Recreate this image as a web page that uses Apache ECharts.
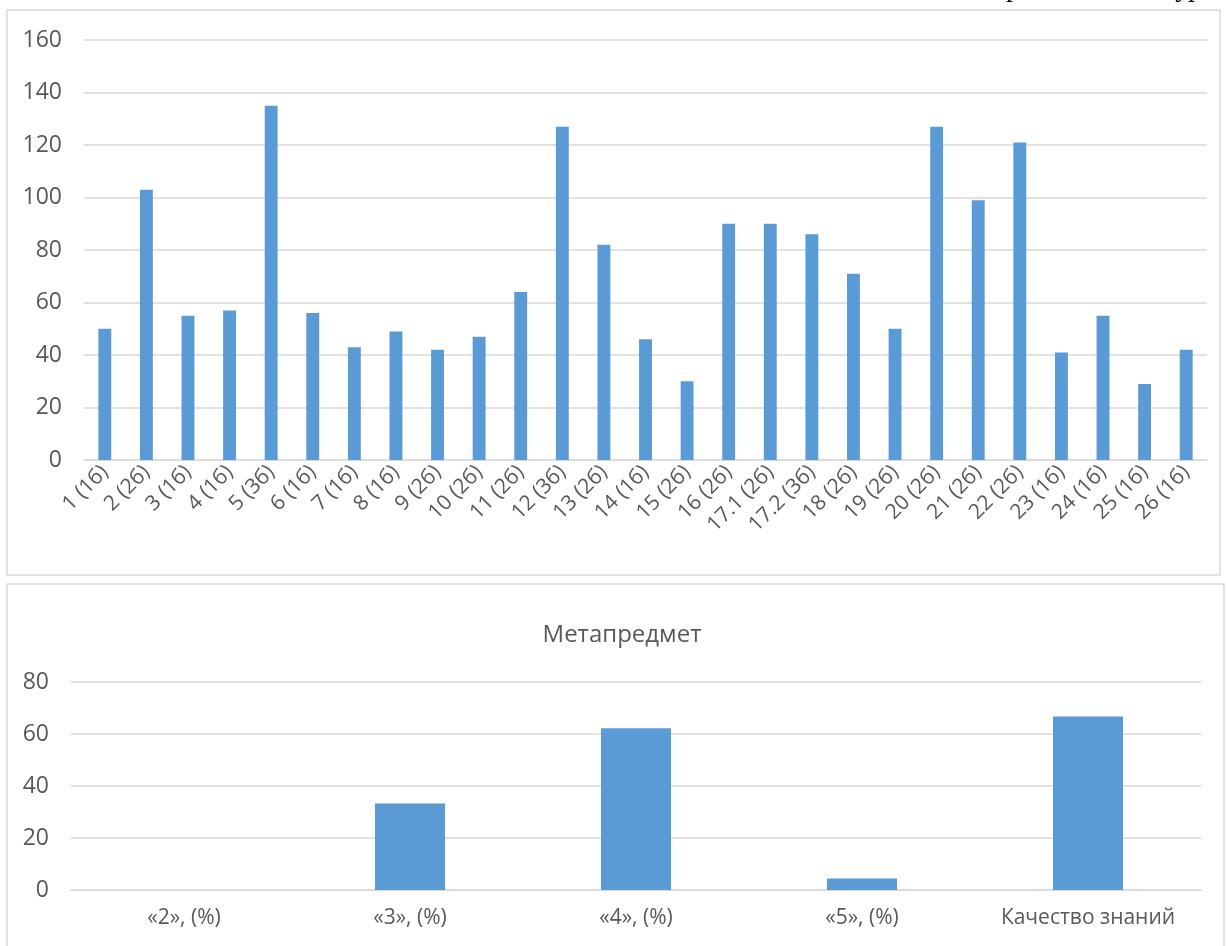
<!DOCTYPE html>
<html>
<head>
<meta charset="utf-8">
<script src="https://cdn.jsdelivr.net/npm/echarts@6/dist/echarts.min.js"></script>
<style>
  html, body { margin: 0; padding: 0; background: #ffffff; }
  #chart { width: 1226px; height: 946px; }
</style>
</head>
<body>
<div id="chart"></div>
<script>
// верхняя диаграмма: задания (баллы)
var taskLabels = ['1 (1б)', '2 (2б)', '3 (1б)', '4 (1б)', '5 (3б)', '6 (1б)', '7 (1б)', '8 (1б)', '9 (2б)',
  '10 (2б)', '11 (2б)', '12 (3б)', '13 (2б)', '14 (1б)', '15 (2б)', '16 (2б)', '17.1 (2б)', '17.2 (3б)',
  '18 (2б)', '19 (2б)', '20 (2б)', '21 (2б)', '22 (2б)', '23 (1б)', '24 (1б)', '25 (1б)', '26 (1б)']
var taskValues = [50, 103, 55, 57, 135, 56, 43, 49, 42, 47, 64, 127, 82, 46, 30, 90, 90, 86, 71, 50, 127, 99, 121, 41, 55, 29, 42]

// нижняя диаграмма: Метапредмет
var metaTitle = 'Метапредмет'
var metaLabels = ['«2», (%)', '«3», (%)', '«4», (%)', '«5», (%)', 'Качество знаний']
var metaValues = [0, 33.3, 62.2, 4.4, 66.7]

var textColor = '#595959'
var gridColor = '#d9d9d9'
var barColor = '#5b9bd5'
var font = 'Open Sans'

var chart = echarts.init(document.getElementById('chart'))
chart.setOption({
  backgroundColor: '#ffffff',
  animation: false,
  title: {
    text: metaTitle,
    left: 617,
    top: 618,
    textAlign: 'center',
    textStyle: { color: textColor, fontSize: 24, fontWeight: 'normal', fontFamily: font }
  },
  graphic: [
    { type: 'rect', shape: { x: 7, y: 10, width: 1213, height: 565 },
      style: { fill: 'none', stroke: gridColor, lineWidth: 1.5 } },
    { type: 'rect', shape: { x: 7, y: 584, width: 1217, height: 420 },
      style: { fill: 'none', stroke: gridColor, lineWidth: 1.5 } },
    // обрезанный текст документа сверху справа
    { type: 'text', x: 1008, y: 3, style: { text: 'р', font: 'italic 28px "Liberation Serif"', fill: '#000', verticalAlign: 'bottom' } },
    { type: 'text', x: 1106, y: 3, style: { text: ',', font: 'italic 28px "Liberation Serif"', fill: '#000', verticalAlign: 'bottom' } },
    { type: 'text', x: 1178, y: 3, style: { text: 'ур', font: 'italic 28px "Liberation Serif"', fill: '#000', verticalAlign: 'bottom' } }
  ],
  grid: [
    { left: 84, right: 19, top: 40, bottom: 486 },
    { left: 71, right: 25, top: 682, bottom: 56 }
  ],
  xAxis: [{
    gridIndex: 0,
    type: 'category',
    data: taskLabels,
    axisLine: { lineStyle: { color: gridColor, width: 1.5 } },
    axisTick: { show: false },
    axisLabel: { rotate: 45, interval: 0, margin: 9, color: textColor, fontSize: 21, fontFamily: font }
  }, {
    gridIndex: 1,
    type: 'category',
    data: metaLabels,
    axisLine: { lineStyle: { color: gridColor, width: 1.5 } },
    axisTick: { show: false },
    axisLabel: { interval: 0, margin: 18, color: textColor, fontSize: 21, fontFamily: font }
  }],
  yAxis: [{
    gridIndex: 0,
    type: 'value',
    min: 0,
    max: 160,
    interval: 20,
    axisLine: { show: false },
    axisTick: { show: false },
    axisLabel: { margin: 22, color: textColor, fontSize: 23, fontFamily: font },
    splitLine: { lineStyle: { color: gridColor, width: 1.5 } }
  }, {
    gridIndex: 1,
    type: 'value',
    min: 0,
    max: 80,
    interval: 20,
    axisLine: { show: false },
    axisTick: { show: false },
    axisLabel: { margin: 22, color: textColor, fontSize: 23, fontFamily: font },
    splitLine: { lineStyle: { color: gridColor, width: 1.5 } }
  }],
  series: [{
    type: 'bar',
    xAxisIndex: 0,
    yAxisIndex: 0,
    data: taskValues,
    barWidth: '31%',
    itemStyle: { color: barColor }
  }, {
    type: 'bar',
    xAxisIndex: 1,
    yAxisIndex: 1,
    data: metaValues,
    barWidth: '31%',
    itemStyle: { color: barColor }
  }]
})
</script>
</body>
</html>
